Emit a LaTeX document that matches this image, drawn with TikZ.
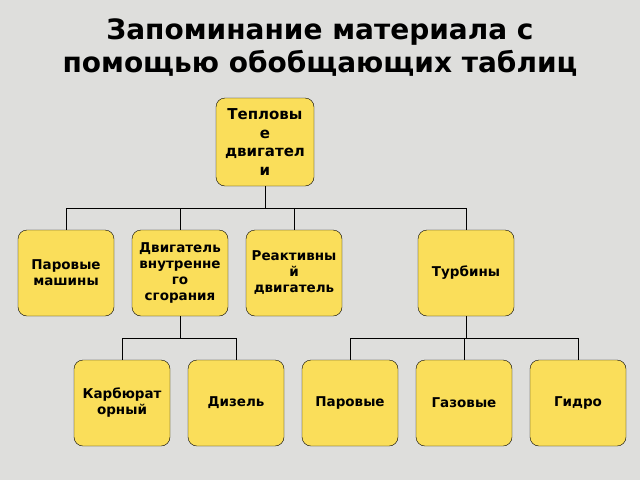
\documentclass[tikz,border=0pt]{standalone}
\usepackage{fontspec}
\setmainfont{DejaVu Sans}
\definecolor{bg}{RGB}{222,222,220}
\definecolor{boxy}{RGB}{250,222,90}
\begin{document}
\begin{tikzpicture}[x=1pt,y=-1pt,
  box/.style={draw=black,fill=boxy,rounded corners=9pt,minimum width=96pt,minimum height=86pt,
    align=center,font=\bfseries\fontsize{13.5}{16}\selectfont,inner sep=1pt},
  wire/.style={draw=black,line width=0.9pt}]
\fill[bg] (0,0) rectangle (640,480);
\useasboundingbox (0,0) rectangle (640,480);
\node[font=\bfseries\fontsize{28}{33}\selectfont,align=center] (title) at (320,48) {Запоминание материала с\\помощью обобщающих таблиц};
\node[box,minimum width=98pt,minimum height=88pt,font=\bfseries\fontsize{15}{18.5}\selectfont] (root) at (265,142) {Тепловы\\е\\двигател\\и};
\node[box] (pm) at (66,273) {Паровые\\машины};
\node[box] (dvs) at (180,273) {Двигатель\\внутренне\\го\\сгорания};
\node[box] (rd) at (294,273) {Реактивны\\й\\двигатель};
\node[box] (tu) at (466,273) {Турбины};
\node[box] (ka) at (122,403) {Карбюрат\\орный};
\node[box] (di) at (236,403) {Дизель};
\node[box] (pa) at (350,403) {Паровые};
\node[box] (ga) at (464,403) {Газовые};
\node[box] (gi) at (578,403) {Гидро};
\coordinate (b1) at (265,208);
\draw[wire] (root.south) -- (b1);
\foreach \n in {pm,dvs,rd,tu} \draw[wire] (b1 -| \n.north) -- (\n.north);
\draw[wire] (b1 -| pm.north) -- (b1 -| tu.north);
\coordinate (b2) at (180,338);
\draw[wire] (dvs.south) -- (b2);
\draw[wire] (b2 -| ka.north) -- (b2 -| di.north);
\foreach \n in {ka,di} \draw[wire] (b2 -| \n.north) -- (\n.north);
\coordinate (b3) at (466,338);
\draw[wire] (tu.south) -- (b3);
\draw[wire] (b3 -| pa.north) -- (b3 -| gi.north);
\foreach \n in {pa,ga,gi} \draw[wire] (b3 -| \n.north) -- (\n.north);
\end{tikzpicture}
\end{document}
